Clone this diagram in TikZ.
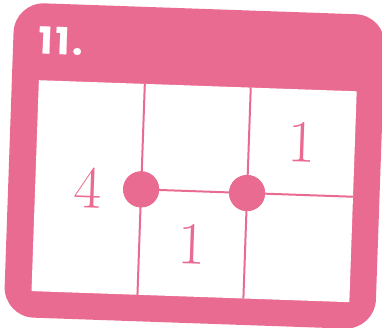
\documentclass[tikz,border=0pt]{standalone}
\usepackage{fontspec}
\newfontfamily\headfont{Poppins}[BoldFeatures={FakeBold=0.6}]
\definecolor{cardpink}{RGB}{234,107,145}
\begin{document}
\begin{tikzpicture}[x=1pt,y=1pt,
  gridline/.style={draw=cardpink, line width=2pt},
  joint/.style={circle, fill=cardpink, minimum size=36pt, inner sep=0pt},
  digit/.style={text=cardpink, inner sep=0pt, font=\fontsize{60}{60}\selectfont},
  headtext/.style={text=white, inner sep=0pt, anchor=base west, font=\headfont\bfseries\fontsize{37}{37}\selectfont}]
\useasboundingbox (0,0) rectangle (382,328);
\begin{scope}[shift={(194.1,136.8)}, rotate=-2, transform shape]
  % card
  \fill[cardpink, rounded corners=30pt] (-186,-132) rectangle (185.5,182.5);
  \fill[white] (-159,-105.5) rectangle (159,105.5);
  % grid coordinates
  \coordinate (v1t) at (-53,105.5);
  \coordinate (v1b) at (-53,-105.5);
  \coordinate (v2t) at (53,105.5);
  \coordinate (v2b) at (53,-105.5);
  \coordinate (hr) at (159,0);
  \node[joint] (d1) at (-53,0) {};
  \node[joint] (d2) at (53,0) {};
  % lines
  \draw[gridline] (v1t) -- (v1b);
  \draw[gridline] (v2t) -- (v2b);
  \draw[gridline] (d1.center) -- (d2.center) -- (hr);
  % joints on top
  \node[joint] at (d1) {};
  \node[joint] at (d2) {};
  % numbers
  \node[digit] (n4) at (-106,0) {4};
  \node[digit] (n1a) at (106,52.75) {1};
  \node[digit] (n1b) at (0,-52.75) {1};
  % title
  \node[headtext] (title) at (-161,132.4) {1\kern3pt1\kern3pt.};
\end{scope}
\end{tikzpicture}
\end{document}
